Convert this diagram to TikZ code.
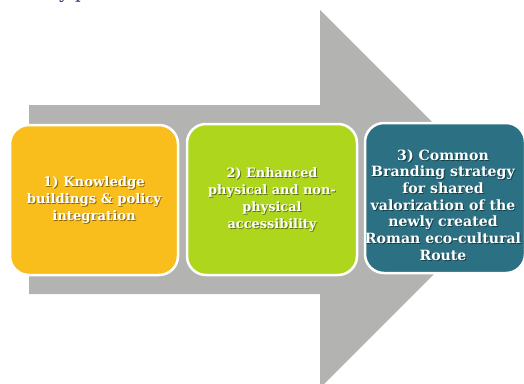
\documentclass[tikz,border=0pt]{standalone}
\usepackage{fontspec}
\setmainfont{DejaVu Serif}
\definecolor{arrowgray}{RGB}{179,179,178}
\definecolor{boxyellow}{RGB}{249,190,27}
\definecolor{boxgreen}{RGB}{173,214,28}
\definecolor{boxteal}{RGB}{43,113,131}
\definecolor{fragblue}{RGB}{31,56,110}
\tikzset{
  box/.style={draw=white, line width=2.5pt, rounded corners=19pt, inner sep=0pt},
  lbl/.style={align=center, text=white, inner sep=0pt},
  shadowlbl/.style={lbl, text=black, opacity=0.45},
  fonta/.style={font=\bfseries\fontsize{13.2}{17.3}\selectfont},
  fontb/.style={font=\bfseries\fontsize{12.9}{17.2}\selectfont},
  fontc/.style={font=\bfseries\fontsize{14.1}{16.7}\selectfont},
}
\begin{document}
\begin{tikzpicture}[x=1pt,y=-1pt]
\useasboundingbox (0,0) rectangle (524,383);
\clip (0,0) rectangle (524,383);
% text fragment cut off at the top edge
\node[font=\fontsize{18}{20}\selectfont, text=fragblue, anchor=base west, inner sep=0pt] (frag) at (59,-1.5) {y p};
% big gray arrow
\fill[arrowgray] (29,105) -- (320,105) -- (320,10) -- (509,199) -- (320,388) -- (320,294) -- (29,294) -- cycle;
% boxes
\node[box, fill=boxyellow, minimum width=168pt, minimum height=150pt] (b1) at (94,200) {};
\node[box, fill=boxgreen, minimum width=170pt, minimum height=151pt] (b2) at (272,199.5) {};
\node[box, fill=boxteal, minimum width=160pt, minimum height=150pt] (b3) at (445,198) {};
% labels with shadow
\node[shadowlbl, fonta] (s1) at ([shift={(1,1)}]b1.center) {1) Knowledge\\buildings \& policy\\integration};
\node[lbl, fonta] (t1) at (b1.center) {1) Knowledge\\buildings \& policy\\integration};
\node[shadowlbl, fontb] (s2) at ([shift={(1,1)}]b2.center) {2) Enhanced\\physical and non-\\physical\\accessibility};
\node[lbl, fontb] (t2) at (b2.center) {2) Enhanced\\physical and non-\\physical\\accessibility};
\coordinate (c3) at (443,205);
\node[shadowlbl, fontc] (s3) at ([shift={(1,1)}]c3) {3) Common\\Branding strategy\\for shared\\valorization of the\\newly created\\Roman eco-cultural\\Route};
\node[lbl, fontc] (t3) at (c3) {3) Common\\Branding strategy\\for shared\\valorization of the\\newly created\\Roman eco-cultural\\Route};
\end{tikzpicture}
\end{document}
